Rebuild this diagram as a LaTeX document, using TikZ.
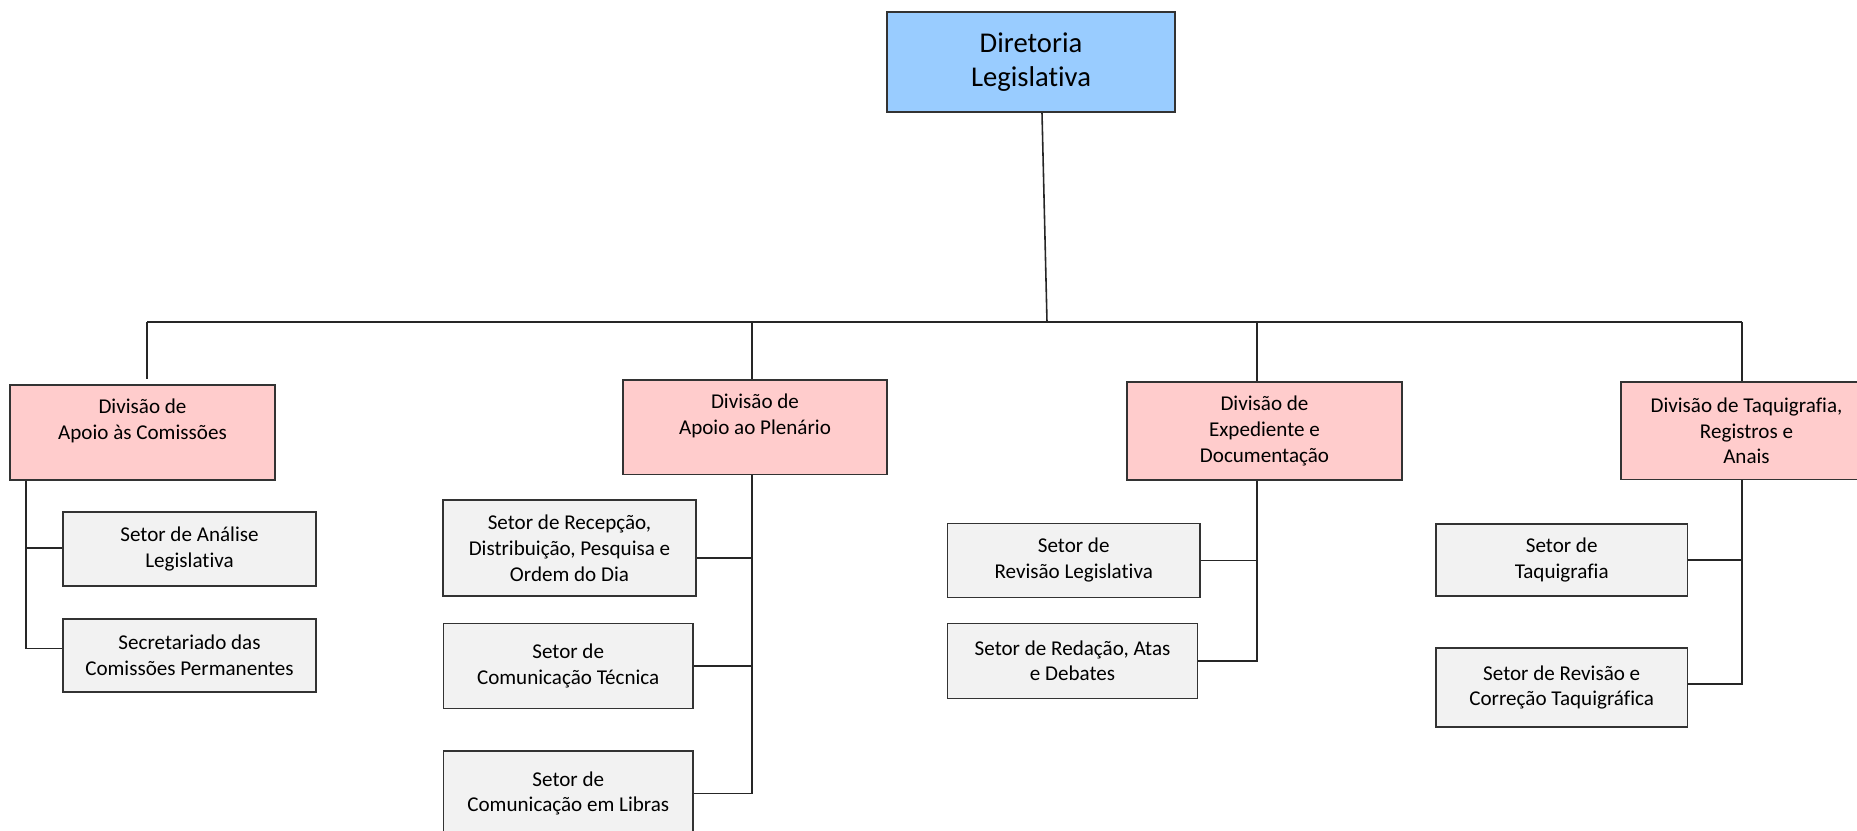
\documentclass[tikz,border=0pt]{standalone}
\usepackage{fontspec}
\setmainfont{Carlito}[Ligatures=NoCommon]
\usepackage{tikz}
\definecolor{dirblue}{HTML}{99CCFF}
\definecolor{divpink}{HTML}{FFCCCC}
\definecolor{setgray}{HTML}{F2F2F2}
\tikzset{
  box/.style={
    rectangle,
    draw=black!80, line width=.9pt,
    align=center,
    inner sep=2pt,
    font=\fontsize{12}{14.7}\selectfont},
  dirbox/.style={box, fill=dirblue, minimum width=5.76cm, minimum height=2cm,
    font=\fontsize{16.3}{19}\selectfont},
  divbox/.style={box, fill=divpink},
  setbox/.style={box, fill=setgray},
  link/.style={draw=black!85, line width=.9pt},
}

\begin{document}
\begin{tikzpicture}[x=0.02cm, y=-0.02cm]
  \useasboundingbox (0,0) rectangle (1857,831);
  \clip (0,0) rectangle (1857,831);
  \node[dirbox] (dir) at (1031,62) {Diretoria\\Legislativa};
  % divisoes
  \node[divbox, minimum width=5.3cm, minimum height=1.9cm] (divA) at (142.5,432.5)
    {Divisão de\\Apoio às Comissões\\~};
  \node[divbox, minimum width=5.28cm, minimum height=1.89cm] (divB) at (755,427.2)
    {Divisão de\\Apoio ao Plenário\\~};
  \node[divbox, minimum width=5.5cm, minimum height=1.96cm] (divC) at (1264.5,431)
    {Divisão de\\Expediente e\\Documentação};
  \node[divbox, minimum width=5.02cm, minimum height=1.95cm] (divD) at (1746.5,430.8)
    {Divisão de Taquigrafia,\\Registros e\\Anais};
  % setores
  \node[setbox, minimum width=5.06cm, minimum height=1.48cm] (s11) at (189.5,549)
    {Setor de Análise\\Legislativa};
  \node[setbox, minimum width=5.06cm, minimum height=1.47cm] (s12) at (189.5,655.5)
    {Secretariado das\\Comissões Permanentes};
  \node[setbox, minimum width=5.05cm, minimum height=1.92cm] (s21) at (569.5,548)
    {Setor de Recepção,\\Distribuição, Pesquisa e\\Ordem do Dia};
  \node[setbox, minimum width=4.99cm, minimum height=1.7cm] (s22) at (568.2,665.8)
    {Setor de\\Comunicação Técnica};
  \node[setbox, minimum width=5cm, minimum height=1.7cm] (s23) at (568.3,793.5)
    {Setor de\\Comunicação em Libras};
  \node[setbox, minimum width=5.05cm, minimum height=1.48cm] (s31) at (1073.7,560.3)
    {Setor de\\Revisão Legislativa};
  \node[setbox, minimum width=5cm, minimum height=1.5cm] (s32) at (1072.5,660.8)
    {Setor de Redação, Atas\\e Debates};
  \node[setbox, minimum width=5.04cm, minimum height=1.44cm] (s41) at (1561.7,560)
    {Setor de\\Taquigrafia};
  \node[setbox, minimum width=5.04cm, minimum height=1.57cm] (s42) at (1561.7,687.5)
    {Setor de Revisão e\\Correção Taquigráfica};
  % ligacoes
  \coordinate (hub) at (1047,322);
  \coordinate (bA) at (147,322);
  \coordinate (bB) at (752,322);
  \coordinate (bC) at (1257,322);
  \coordinate (bD) at (1742,322);
  \coordinate (spA) at (26,322);
  \draw[link] (bA) -- (bD);
  \draw[link] ([xshift=.22cm]dir.south) -- (hub);
  \draw[link] (bA) -- ([yshift=.1cm]divA.north -| bA);
  \draw[link] (bB) -- (divB.north -| bB);
  \draw[link] (bC) -- (divC.north -| bC);
  \draw[link] (bD) -- (divD.north -| bD);
  \draw[link] (divA.south -| spA) |- ([yshift=.02cm]s11.west);
  \draw[link] (divA.south -| spA) |- ([yshift=.14cm]s12.west);
  \draw[link] (divB.south -| bB) |- ([yshift=-.2cm]s21.east);
  \draw[link] (divB.south -| bB) |- (s22.east);
  \draw[link] (divB.south -| bB) |- (s23.east);
  \draw[link] (divC.south -| bC) |- (s31.east);
  \draw[link] (divC.south -| bC) |- (s32.east);
  \draw[link] (divD.south -| bD) |- (s41.east);
  \draw[link] (divD.south -| bD) |- ([yshift=.07cm]s42.east);
\end{tikzpicture}
\end{document}
